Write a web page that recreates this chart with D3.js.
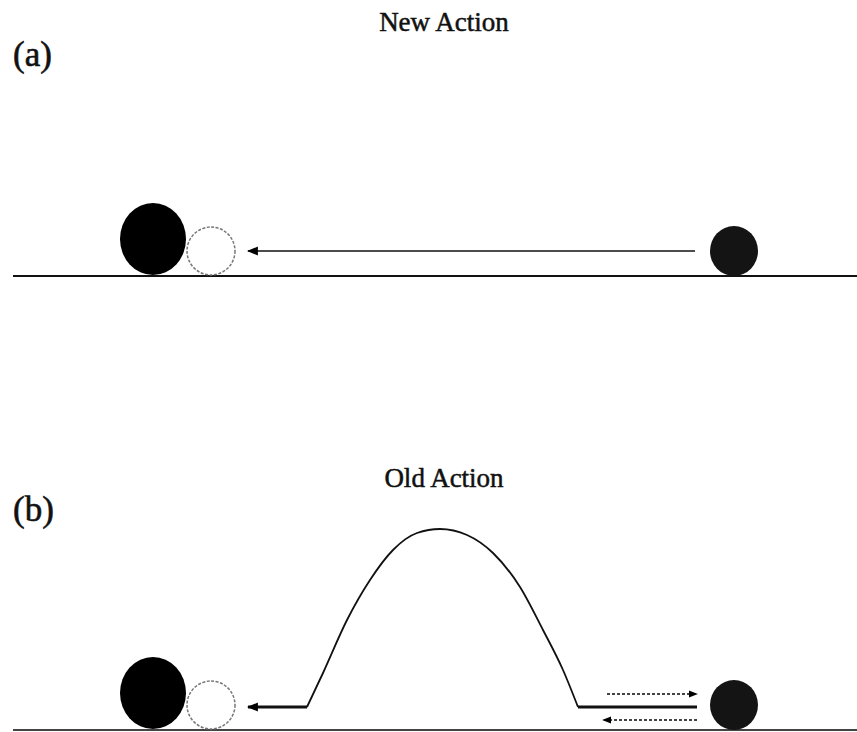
<!DOCTYPE html>
<html>
<head>
<meta charset="utf-8">
<script src="https://cdn.jsdelivr.net/npm/d3@7/dist/d3.min.js"></script>
<style>
  html, body { margin: 0; padding: 0; background: #fff; }
  svg { display: block; }
</style>
</head>
<body>
<div id="chart"></div>
<script>
// panels: label, title and ground line position
const panels = ['a', 'b'];
const panelTitles = ['New Action', 'Old Action'];
const groundY = [276, 730];
const titleY = [31, 487];
const labelY = [66, 521];

// balls, heights measured above the ground line
const ballKinds = ['big', 'ghost', 'small'];
const ballX = [153, 211, 734];
const ballH = [37, 25, 25];
const ballRx = [33, 24, 24];
const ballRy = [36, 24, 25];

// panel (a): straight path to the new action
const pathA = [[695, 25], [248, 25]];

// panel (b): path over the barrier
const flatRight = [[697, 23], [578, 23]];
const hill = [[307, 23], [323, 57], [347, 110], [370, 150], [393, 180], [417, 197],
  [440, 201], [467, 195], [493, 177], [520, 143], [543, 100], [563, 60], [578, 23]];
const flatLeft = [[307, 23], [248, 23]];
// dotted back-and-forth arrows near the small ball
const dashOut = [[607, 36], [697, 36]];
const dashBack = [[697, 10], [603, 10]];

const width = 857, height = 732;
const serif = '"Liberation Serif", "Times New Roman", "DejaVu Serif", serif';

const svg = d3.select('#chart').append('svg')
  .attr('width', width)
  .attr('height', height);

const defs = svg.append('defs');
function arrowMarker(id, size) {
  defs.append('marker')
    .attr('id', id)
    .attr('viewBox', '0 0 10 10')
    .attr('refX', 9).attr('refY', 5)
    .attr('markerWidth', size).attr('markerHeight', size)
    .attr('markerUnits', 'userSpaceOnUse')
    .attr('orient', 'auto')
    .append('path')
    .attr('d', 'M0,1 L10,5 L0,9 Z')
    .attr('fill', '#000');
}
arrowMarker('arrow', 11);
arrowMarker('arrow-small', 9);

const x = d3.scaleLinear().domain([0, width]).range([0, width]);

panels.forEach((p, i) => {
  const y = d3.scaleLinear().domain([0, 100]).range([groundY[i], groundY[i] - 100]);
  const g = svg.append('g').attr('class', `panel-${p}`);

  g.append('text')
    .attr('x', 444).attr('y', titleY[i])
    .attr('text-anchor', 'middle')
    .attr('font-family', serif)
    .attr('font-size', 27)
    .attr('fill', '#111')
    .attr('stroke', '#111')
    .attr('stroke-width', 0.5)
    .text(panelTitles[i]);

  g.append('text')
    .attr('x', 13).attr('y', labelY[i])
    .attr('font-family', serif)
    .attr('font-size', 35)
    .attr('fill', '#111')
    .attr('stroke', '#111')
    .attr('stroke-width', 0.6)
    .text(`(${p})`);

  // ground
  g.append('line')
    .attr('x1', x(13)).attr('x2', x(857))
    .attr('y1', y(0)).attr('y2', y(0))
    .attr('stroke', i === 0 ? '#111' : '#444')
    .attr('stroke-width', 2.2);

  const line = d3.line().x(d => x(d[0])).y(d => y(d[1]));

  if (i === 0) {
    g.append('path')
      .attr('d', line(pathA))
      .attr('fill', 'none')
      .attr('stroke', '#111')
      .attr('stroke-width', 1.6)
      .attr('marker-end', 'url(#arrow)');
  } else {
    g.append('path')
      .attr('d', line(flatRight))
      .attr('fill', 'none')
      .attr('stroke', '#111')
      .attr('stroke-width', 3);
    g.append('path')
      .attr('d', d3.line().x(d => x(d[0])).y(d => y(d[1])).curve(d3.curveMonotoneX)(hill))
      .attr('fill', 'none')
      .attr('stroke', '#111')
      .attr('stroke-width', 1.8);
    g.append('path')
      .attr('d', line(flatLeft))
      .attr('fill', 'none')
      .attr('stroke', '#111')
      .attr('stroke-width', 3)
      .attr('marker-end', 'url(#arrow)');
    [dashOut, dashBack].forEach(seg => {
      g.append('path')
        .attr('d', line(seg))
        .attr('fill', 'none')
        .attr('stroke', '#444')
        .attr('stroke-width', 2)
        .attr('stroke-dasharray', '3,2')
        .attr('marker-end', 'url(#arrow-small)');
    });
  }

  g.selectAll('ellipse')
    .data(ballKinds)
    .join('ellipse')
    .attr('cx', (d, j) => x(ballX[j]))
    .attr('cy', (d, j) => y(ballH[j]))
    .attr('rx', (d, j) => ballRx[j])
    .attr('ry', (d, j) => ballRy[j])
    .attr('fill', d => d === 'ghost' ? 'none' : (d === 'big' ? '#000' : '#141414'))
    .attr('stroke', d => d === 'ghost' ? '#777' : 'none')
    .attr('stroke-width', 1.5)
    .attr('stroke-dasharray', d => d === 'ghost' ? '3,1.5' : null);
});
</script>
</body>
</html>
